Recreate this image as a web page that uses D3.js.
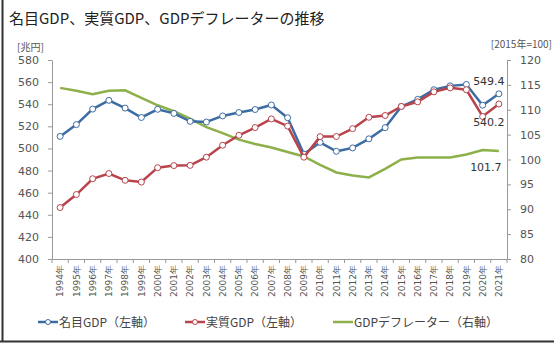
<!DOCTYPE html>
<html><head><meta charset="utf-8">
<script src="https://cdn.jsdelivr.net/npm/d3@7"></script>
<style>
body{margin:0;background:#fff;}
svg{display:block;font-family:"Noto Sans CJK JP","DejaVu Sans",sans-serif;}
</style></head>
<body>
<svg id="c" width="554" height="344"></svg>
<script>
const years = [1994,1995,1996,1997,1998,1999,2000,2001,2002,2003,2004,2005,2006,2007,2008,2009,2010,2011,2012,2013,2014,2015,2016,2017,2018,2019,2020,2021];
const nominalGDP = [510.9,521.6,535.6,543.5,536.5,528.0,535.4,531.7,524.5,523.9,529.4,532.5,535.2,539.3,527.8,494.9,505.5,497.4,500.5,508.7,518.8,538.0,544.4,553.1,556.6,557.9,539.1,549.4];
const realGDP = [446.5,458.3,472.6,477.3,471.2,469.6,482.6,484.5,484.7,492.1,502.9,511.9,518.9,526.7,520.2,492.1,510.7,510.8,517.9,528.2,529.8,538.0,542.1,551.2,554.8,553.1,528.9,540.2];
const deflator = [114.4,113.8,113.1,113.8,113.9,112.4,110.9,109.7,108.2,106.5,105.3,104.0,103.1,102.4,101.5,100.6,98.9,97.4,96.8,96.4,98.1,100.0,100.4,100.4,100.4,101.0,101.9,101.7];
const leftTicks = [400,420,440,460,480,500,520,540,560,580];
const rightTicks = [80,85,90,95,100,105,110,115,120];
const seriesNames = ["名目GDP（左軸）","実質GDP（左軸）","GDPデフレーター（右軸）"];
const colors = ["#3d6ca3","#b9434a","#8db04a"];

const svg = d3.select("#c");
const X0=52, X1=507, Y0=60, Y1=259;
const x = d3.scaleBand().domain(years).range([X0,X1]);
const yL = d3.scaleLinear().domain([400,580]).range([Y1,Y0]);
const yR = d3.scaleLinear().domain([80,120]).range([Y1,Y0]);
const cx = d => x(d)+x.bandwidth()/2;

// frame
svg.append("line").attr("x1",2.5).attr("x2",2.5).attr("y1",0).attr("y2",342).attr("stroke","#333").attr("stroke-width",2);
svg.append("line").attr("x1",0).attr("x2",554).attr("y1",341.5).attr("y2",341.5).attr("stroke","#333").attr("stroke-width",2);

svg.append("text").attr("x",9).attr("y",24).attr("font-size",15).attr("fill","#222").text("名目GDP、実質GDP、GDPデフレーターの推移");
svg.append("text").attr("x",17).attr("y",51).attr("font-size",10).attr("fill","#555").text("[兆円]");
svg.append("text").attr("x",552).attr("y",48).attr("font-size",10).attr("fill","#555").attr("text-anchor","end").text("[2015年=100]");

const axisColor="#999";
const gl = svg.append("g").attr("transform",`translate(${X0},0)`)
  .call(d3.axisLeft(yL).tickValues(leftTicks).tickSize(4).tickSizeOuter(0).tickPadding(9));
const gr = svg.append("g").attr("transform",`translate(${X1},0)`)
  .call(d3.axisRight(yR).tickValues(rightTicks).tickSize(4).tickSizeOuter(0).tickPadding(9));
const gx = svg.append("g").attr("transform",`translate(0,${Y1})`)
  .call(d3.axisBottom(x).tickSize(0).tickFormat(d=>d+"年"));
[gl,gr,gx].forEach(g=>{
  g.selectAll(".domain").attr("stroke",axisColor);
  g.selectAll(".tick line").attr("stroke",axisColor);
  g.selectAll("text").attr("fill","#555").attr("font-size",11).attr("font-family","DejaVu Sans, sans-serif");
});
gx.selectAll(".tick text").attr("font-size",9).attr("transform","rotate(-90)").attr("text-anchor","end").attr("dy","0.35em").attr("x",-6).attr("y",0);
gx.selectAll(".bt").data(years.concat([null])).enter().append("line")
  .attr("x1",(d,i)=>X0+i*x.bandwidth()).attr("x2",(d,i)=>X0+i*x.bandwidth())
  .attr("y1",0).attr("y2",4).attr("stroke",axisColor);

const lineL = d3.line().x((d,i)=>cx(years[i])).y(d=>yL(d));
const lineR = d3.line().x((d,i)=>cx(years[i])).y(d=>yR(d));
svg.append("path").datum(deflator).attr("d",lineR).attr("fill","none").attr("stroke",colors[2]).attr("stroke-width",2.5);
[[nominalGDP,colors[0]],[realGDP,colors[1]]].forEach(([data,col])=>{
  svg.append("path").datum(data).attr("d",lineL).attr("fill","none").attr("stroke",col).attr("stroke-width",2.5);
  svg.selectAll(null).data(data).enter().append("circle")
    .attr("cx",(d,i)=>cx(years[i])).attr("cy",d=>yL(d)).attr("r",3)
    .attr("fill","#fff").attr("stroke",col).attr("stroke-width",1);
});

const last = years.length-1;
const lbl = (xx,yy,t)=>svg.append("text").attr("x",xx).attr("y",yy).attr("text-anchor","middle").attr("font-size",11).attr("fill","#333").attr("font-family","DejaVu Sans, sans-serif").text(t);
lbl(cx(years[last])-10, yL(nominalGDP[last])-9, nominalGDP[last].toFixed(1));
lbl(cx(years[last])-10, yL(realGDP[last])+22, realGDP[last].toFixed(1));
lbl(cx(years[last])-13, yR(deflator[last])+20, deflator[last].toFixed(1));

const lx=[38,185,333], ly=322;
seriesNames.forEach((n,i)=>{
  const g=svg.append("g");
  g.append("line").attr("x1",lx[i]).attr("x2",lx[i]+20).attr("y1",ly).attr("y2",ly).attr("stroke",colors[i]).attr("stroke-width",2.5);
  if(i<2) g.append("circle").attr("cx",lx[i]+10).attr("cy",ly).attr("r",2.5).attr("fill","#fff").attr("stroke",colors[i]);
  g.append("text").attr("x",lx[i]+21).attr("y",ly+4.5).attr("font-size",12).attr("fill","#444").text(n);
});
</script>
</body></html>
